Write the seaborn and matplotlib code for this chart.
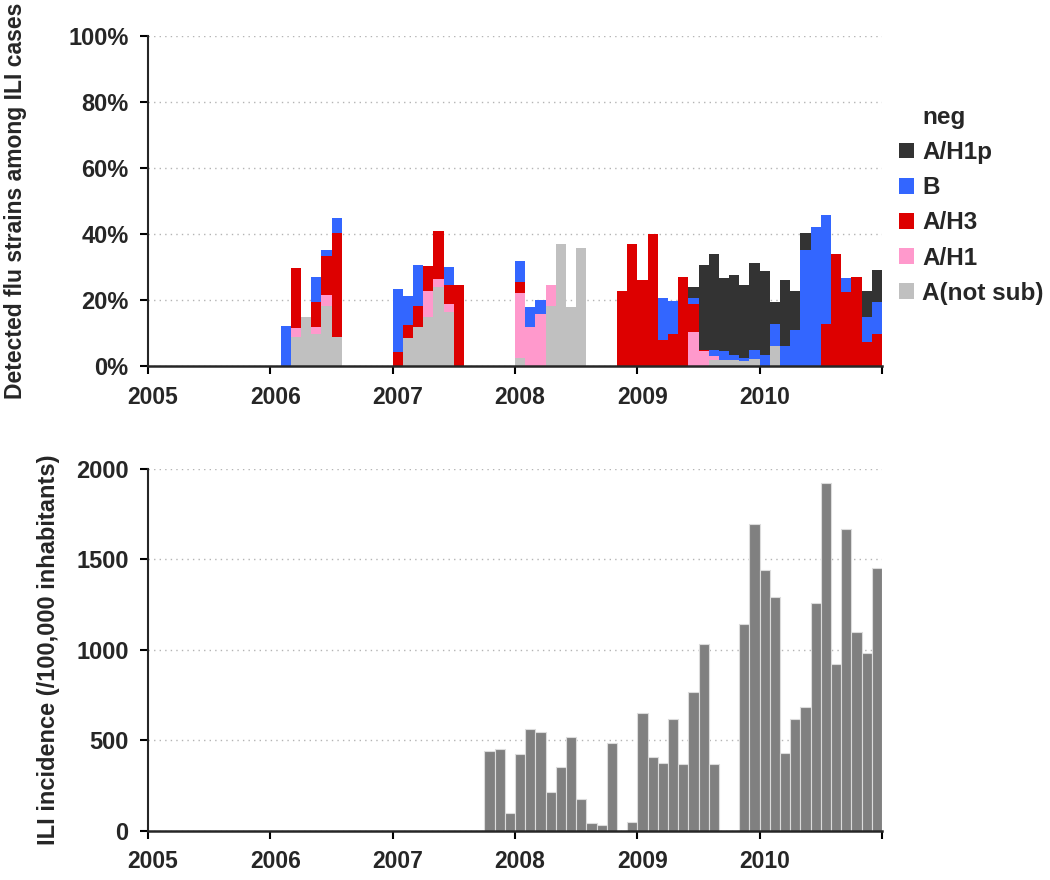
import matplotlib
matplotlib.use('Agg')
import matplotlib.pyplot as plt
from matplotlib.patches import Patch
from matplotlib.transforms import ScaledTranslation
import seaborn as sns
import numpy as np
import pandas as pd

# Monthly share of ILI swabs positive per strain (%)
strain_months = [
    '2006-02', '2006-03', '2006-04', '2006-05', '2006-06', '2006-07',
    '2007-01', '2007-02', '2007-03', '2007-04', '2007-05', '2007-06', '2007-07',
    '2008-01', '2008-02', '2008-03', '2008-04', '2008-05', '2008-06', '2008-07',
    '2008-11', '2008-12',
    '2009-01', '2009-02', '2009-03', '2009-04', '2009-05', '2009-06',
    '2009-07', '2009-08', '2009-09', '2009-10', '2009-11', '2009-12',
    '2010-01', '2010-02', '2010-03', '2010-04', '2010-05', '2010-06',
    '2010-07', '2010-08', '2010-09', '2010-10', '2010-11', '2010-12',
]
a_not_sub = [0, 8.8, 15.0, 9.8, 18.2, 8.8,
             0, 8.6, 11.9, 14.9, 23.9, 16.4, 0,
             2.6, 0, 0, 18.3, 36.9, 17.9, 35.8,
             0, 0,
             0, 0, 0, 0, 0, 0,
             0, 1.7, 1.7, 1.7, 1.5, 2.0,
             0, 6.2, 0, 0, 0, 0,
             0, 0, 0, 0, 0, 0]
a_h1 = [0, 2.8, 0, 2.1, 3.2, 0,
        0, 0, 0, 7.8, 2.6, 2.5, 0,
        19.5, 11.7, 15.9, 6.2, 0, 0, 0,
        0, 0,
        0, 0, 0, 0, 0, 10.2,
        4.5, 1.3, 0, 0, 0, 0,
        0, 0, 0, 0, 0, 0,
        0, 0, 0, 0, 0, 0]
a_h3 = [0, 18.2, 0, 7.6, 11.9, 31.6,
        4.2, 4.0, 6.4, 7.7, 14.5, 5.6, 24.5,
        3.4, 0, 0, 0, 0, 0, 0,
        22.7, 37.1,
        26.1, 40.1, 7.8, 9.8, 27.0, 8.6,
        0.5, 0, 0, 0, 0, 0,
        0, 0, 0, 0, 0, 0,
        12.9, 34.0, 22.5, 27.0, 7.2, 9.7]
b_strain = [12.0, 0, 0, 7.5, 1.9, 4.5,
            19.2, 8.5, 12.3, 0, 0, 5.5, 0,
            6.3, 6.1, 4.0, 0, 0, 0, 0,
            0, 0,
            0, 0, 12.7, 9.9, 0, 1.9,
            0, 2.0, 2.8, 1.8, 1.0, 2.8,
            3.3, 6.6, 6.2, 11.0, 35.1, 42.2,
            32.9, 0, 4.2, 0, 7.8, 9.7]
a_h1p = [0, 0, 0, 0, 0, 0,
         0, 0, 0, 0, 0, 0, 0,
         0, 0, 0, 0, 0, 0, 0,
         0, 0,
         0, 0, 0, 0, 0, 3.3,
         25.6, 29.0, 22.1, 24.0, 22.0, 26.3,
         25.5, 6.6, 19.9, 11.7, 5.2, 0,
         0, 0, 0, 0, 7.6, 9.6]

# Monthly ILI incidence per 100,000 inhabitants, bottom panel
ili_months = [
    '2007-10', '2007-11', '2007-12',
    '2008-01', '2008-02', '2008-03', '2008-04', '2008-05', '2008-06',
    '2008-07', '2008-08', '2008-09', '2008-10', '2008-12',
    '2009-01', '2009-02', '2009-03', '2009-04', '2009-05', '2009-06',
    '2009-07', '2009-08', '2009-11', '2009-12',
    '2010-01', '2010-02', '2010-03', '2010-04', '2010-05', '2010-06',
    '2010-07', '2010-08', '2010-09', '2010-10', '2010-11', '2010-12',
]
ili_incidence = [441, 450, 97,
                 427, 560, 548, 212, 350, 520,
                 175, 42, 29, 483, 47,
                 650, 405, 377, 619, 368, 768,
                 1033, 368, 1142, 1694,
                 1441, 1294, 432, 619, 685, 1257,
                 1921, 922, 1670, 1098, 982, 1455]

strain_names = ['A/H1p', 'B', 'A/H3', 'A/H1', 'A(not sub)']
strain_colors = ['#333333', '#3366ff', '#dd0000', '#ff99cc', '#c0c0c0']
year_ticks = [2005, 2006, 2007, 2008, 2009, 2010, 2011]
year_labels = ['2005', '2006', '2007', '2008', '2009', '2010', '']


def mid_month(s):
    y, m = s.split('-')
    return int(y) + (int(m) - 0.5) / 12


# one bin per month, 2005-01 .. 2010-12 (list, so seaborn doesn't compare an array to "auto")
month_edges = [2005 + i / 12 for i in range(73)]

strain_cols = {'A/H1p': a_h1p, 'B': b_strain, 'A/H3': a_h3,
               'A/H1': a_h1, 'A(not sub)': a_not_sub}
df_strain = pd.DataFrame({'date': [mid_month(s) for s in strain_months],
                          **strain_cols})
df_strain = df_strain.melt(id_vars='date', var_name='strain', value_name='pct')

df_ili = pd.DataFrame({'date': [mid_month(s) for s in ili_months],
                       'ili': ili_incidence})

sns.set_style('ticks')
plt.rcParams['font.family'] = ['Liberation Sans', 'DejaVu Sans']
plt.rcParams['font.weight'] = 'bold'

fig = plt.figure(figsize=(10.5, 8.8), dpi=100)
ax1 = fig.add_axes([0.141, 0.584, 0.699, 0.375])
ax2 = fig.add_axes([0.141, 0.056, 0.699, 0.411])

sns.histplot(data=df_strain, x='date', weights='pct', hue='strain',
             hue_order=strain_names, palette=dict(zip(strain_names, strain_colors)),
             multiple='stack', bins=month_edges, alpha=1, linewidth=0,
             legend=False, ax=ax1)

sns.histplot(data=df_ili, x='date', weights='ili', bins=month_edges,
             color='#808080', alpha=1, edgecolor='#dcdcdc', linewidth=0.8,
             ax=ax2)

# excel-style labels sit a few px right of the tick
shift = ScaledTranslation(5 / 100, 0, fig.dpi_scale_trans)

for ax, ymax, step in [(ax1, 100, 20), (ax2, 2000, 500)]:
    ax.set_xlim(2005, 2011)
    ax.set_ylim(0, ymax)
    ax.set_xticks(year_ticks)
    ax.set_xticklabels(year_labels)
    ax.set_yticks(np.arange(0, ymax + 1, step))
    ax.set_xlabel('')
    ax.grid(axis='y', color='#b4b4b4', linestyle=(0, (1, 3)), linewidth=1)
    ax.set_axisbelow(True)
    sns.despine(ax=ax)
    ax.spines['left'].set_linewidth(1.5)
    ax.spines['bottom'].set_linewidth(1.8)
    ax.tick_params(axis='both', width=1.5, length=6, color='black')
    ax.tick_params(axis='x', labelsize=16.5, pad=8)
    ax.tick_params(axis='y', labelsize=17, pad=8)
    for lab in ax.get_xticklabels():
        lab.set_fontweight('bold')
        lab.set_transform(lab.get_transform() + shift)
    for lab in ax.get_yticklabels():
        lab.set_fontweight('bold')

ax1.set_yticklabels([f'{v}%' for v in range(0, 101, 20)], fontweight='bold')
ax1.set_ylabel('Detected flu strains among ILI cases', fontsize=16.5, fontweight='bold')
ax1.yaxis.set_label_coords(-0.165, 0.5)
ax2.set_ylabel('ILI incidence (/100,000 inhabitants)', fontsize=17, fontweight='bold')
ax2.yaxis.set_label_coords(-0.12, 0.5)

handles = [Patch(facecolor='white', edgecolor='none', label='neg')]
handles += [Patch(facecolor=c, edgecolor='none', label=n)
            for n, c in zip(strain_names, strain_colors)]
ax1.legend(handles=handles, loc='upper left', bbox_to_anchor=(899 / 1050, 1 - 106 / 880),
           bbox_transform=fig.transFigure, frameon=False, borderaxespad=0, borderpad=0,
           handlelength=0.62, handleheight=0.62, handletextpad=0.33,
           labelspacing=0.5, prop={'size': 17.5, 'weight': 'bold'})

plt.savefig('out.png', dpi=100)
plt.close()
